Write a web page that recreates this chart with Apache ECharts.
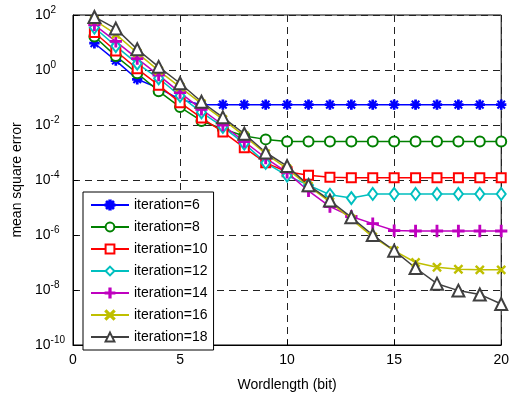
<!DOCTYPE html>
<html>
<head>
<meta charset="utf-8">
<script src="https://cdn.jsdelivr.net/npm/echarts@6/dist/echarts.min.js"></script>
<style>
  html, body { margin: 0; padding: 0; background: #fff; }
  #chart { width: 512px; height: 397px; }
</style>
</head>
<body>
<div id="chart"></div>
<script>
const wordlength = [1, 2, 3, 4, 5, 6, 7, 8, 9, 10, 11, 12, 13, 14, 15, 16, 17, 18, 19, 20]

const iter6 = [9.4, 2.2, 0.46, 0.22, 0.085, 0.055, 0.055, 0.055, 0.055, 0.055, 0.055, 0.055, 0.055, 0.055, 0.055, 0.055, 0.055, 0.055, 0.055, 0.055]
const iter8 = [16.6, 3.2, 0.76, 0.17, 0.045, 0.014, 0.0072, 0.004, 0.003, 0.0025, 0.0025, 0.0025, 0.0025, 0.0025, 0.0025, 0.0025, 0.0025, 0.0025, 0.0025, 0.0025]
const iter10 = [23, 4.9, 1.1, 0.28, 0.065, 0.018, 5.6e-3, 1.5e-3, 4.2e-4, 2e-4, 1.5e-4, 1.25e-4, 1.2e-4, 1.2e-4, 1.2e-4, 1.2e-4, 1.2e-4, 1.2e-4, 1.2e-4, 1.2e-4]
const iter12 = [35, 7.4, 1.7, 0.5, 0.115, 0.029, 8.5e-3, 2.1e-3, 4.2e-4, 1.45e-4, 6.5e-5, 2.9e-5, 2.2e-5, 3.1e-5, 3.1e-5, 3.1e-5, 3.1e-5, 3.1e-5, 3.1e-5, 3.1e-5]
const iter14 = [44, 11, 2.6, 0.65, 0.15, 0.037, 0.01, 2.5e-3, 6.3e-4, 1.9e-4, 4e-5, 1.07e-5, 4.7e-6, 2.6e-6, 1.45e-6, 1.4e-6, 1.4e-6, 1.4e-6, 1.4e-6, 1.4e-6]
const iter16 = [65, 20, 4.2, 0.95, 0.24, 0.06, 0.016, 4e-3, 9e-4, 2.6e-4, 6e-5, 1.6e-5, 3.8e-6, 8.5e-7, 2.7e-7, 1.0e-7, 6.7e-8, 5.7e-8, 5.4e-8, 5.4e-8]
const iter18 = [85, 32, 5.7, 1.3, 0.33, 0.07, 0.019, 4.8e-3, 1.0e-3, 3.2e-4, 6.5e-5, 1.8e-5, 4.4e-6, 1.0e-6, 2.7e-7, 6.3e-8, 1.7e-8, 9.5e-9, 6.9e-9, 3.1e-9]

const seriesNames = ['iteration=6', 'iteration=8', 'iteration=10', 'iteration=12', 'iteration=14', 'iteration=16', 'iteration=18']
const seriesData = [iter6, iter8, iter10, iter12, iter14, iter16, iter18]
const colors = ['#0000ff', '#008000', '#ff0000', '#00bfbf', '#bf00bf', '#bfbf00', '#404040']

// marker shapes (filled paths for the stroke-like ones)
const STAR = 'path://M-0.8,-5L0.8,-5L0.8,5L-0.8,5Z M-5,-0.8L5,-0.8L5,0.8L-5,0.8Z M-4,-3.4L-3.4,-4L4,3.4L3.4,4Z M3.4,-4L4,-3.4L-3.4,4L-4,3.4Z'
const PLUS = 'path://M-0.7,-5L0.7,-5L0.7,5L-0.7,5Z M-5,-0.7L5,-0.7L5,0.7L-5,0.7Z'
const CROSS = 'path://M-5,-4L-4,-5L5,4L4,5Z M4,-5L5,-4L-4,5L-5,4Z'
const symbols = [STAR, 'emptyCircle', 'emptyRect', 'emptyDiamond', PLUS, CROSS, 'emptyTriangle']
const symbolSizes = [9, 10, 9, [9, 12], 11, 8, 12]

const chart = echarts.init(document.getElementById('chart'), null, { renderer: 'canvas' })

const series = seriesNames.map((name, i) => ({
  name: name,
  type: 'line',
  data: wordlength.map((x, k) => [x, seriesData[i][k]]),
  symbol: symbols[i],
  symbolSize: symbolSizes[i],
  showAllSymbol: true,
  clip: false,
  animation: false,
  lineStyle: { color: colors[i], width: 1.5 },
  itemStyle: { color: colors[i], borderColor: colors[i], borderWidth: 1.3 }
}))

const option = {
  backgroundColor: '#fff',
  textStyle: { fontFamily: 'Liberation Sans, Arial, sans-serif' },
  grid: {
    left: 73,
    right: 7,
    top: 15,
    bottom: 43,
    show: true,
    borderColor: '#000',
    borderWidth: 1
  },
  legend: {
    orient: 'vertical',
    left: 83,
    top: 192,
    itemWidth: 38,
    itemHeight: 11,
    itemGap: 8,
    padding: [6, 6, 6, 7],
    backgroundColor: '#fff',
    borderColor: '#000',
    borderWidth: 1,
    borderRadius: 0,
    textStyle: { fontSize: 14, color: '#000', fontFamily: 'Liberation Sans, Arial, sans-serif' },
    data: seriesNames
  },
  xAxis: {
    type: 'value',
    min: 0,
    max: 20,
    interval: 5,
    name: 'Wordlength (bit)',
    nameLocation: 'center',
    nameGap: 33,
    nameTextStyle: { fontSize: 14, color: '#000' },
    axisLine: { show: true, lineStyle: { color: '#000' } },
    axisTick: { show: true, inside: true, length: 5, lineStyle: { color: '#000' } },
    axisLabel: { fontSize: 14, color: '#000', margin: 8 },
    splitLine: { show: true, lineStyle: { color: '#222', type: [7, 5], width: 1 } }
  },
  yAxis: {
    type: 'log',
    logBase: 100,
    min: 1e-10,
    max: 1e2,
    name: 'mean square error',
    nameLocation: 'center',
    nameGap: 48,
    nameTextStyle: { fontSize: 14, color: '#000' },
    axisLine: { show: true, lineStyle: { color: '#000' } },
    axisTick: { show: true, inside: true, length: 5, lineStyle: { color: '#000' } },
    minorTick: { show: false },
    axisLabel: {
      align: 'left',
      margin: 38,
      color: '#000',
      formatter: function (v) {
        const e = Math.round(Math.log10(v))
        return '{b|10}{s|' + e + '}'
      },
      rich: {
        b: { fontSize: 14, color: '#000' },
        s: { fontSize: 10, color: '#000', padding: [0, 0, 10, 0] }
      }
    },
    splitLine: { show: true, lineStyle: { color: '#222', type: [7, 5], width: 1 } }
  },
  series: series
}

chart.setOption(option)
</script>
</body>
</html>
